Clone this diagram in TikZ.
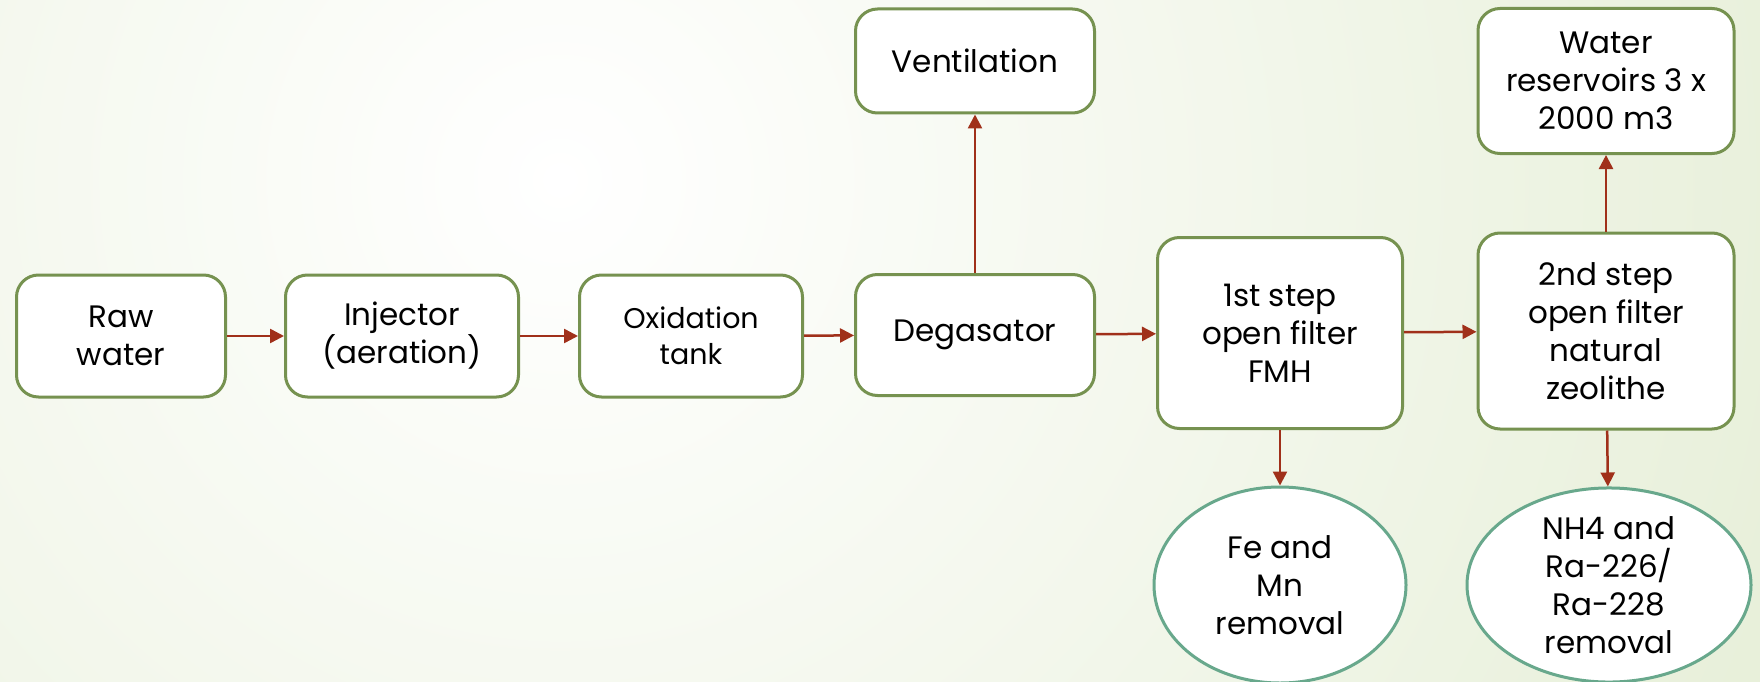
\documentclass[tikz,border=0pt]{standalone}
\usepackage{fontspec}
\setmainfont{Poppins}
\usetikzlibrary{arrows.meta,shapes.geometric}
\definecolor{boxline}{RGB}{118,146,80}
\definecolor{ellline}{RGB}{104,168,140}
\definecolor{arr}{RGB}{160,48,26}
\definecolor{bgout}{RGB}{208,224,180}
\begin{document}
\begin{tikzpicture}[x=1pt,y=-1pt,
  box/.style={draw=boxline, line width=3pt, fill=white, rounded corners=22pt, align=center, inner sep=0pt, font=\fontsize{31}{38}\selectfont},
  oval/.style={ellipse, draw=ellline, line width=3pt, fill=white, align=center, inner sep=0pt, font=\fontsize{31}{38}\selectfont},
  flow/.style={draw=arr, line width=2.5pt, -{Triangle[length=14pt,width=14pt]}}]
\useasboundingbox (0,0) rectangle (1760,682);
\begin{scope}
\clip (0,0) rectangle (1760,682);
\shade[inner color=white, outer color=bgout] (560,180) circle (2600);
\end{scope}
\node[box, minimum width=209pt, minimum height=122pt] (raw) at (121,336) {Raw\\water};
\node[box, minimum width=233pt, minimum height=122pt] (inj) at (402,336) {Injector\\(aeration)};
\node[box, minimum width=223pt, minimum height=122pt, font=\fontsize{28.5}{36}\selectfont] (oxi) at (691,336) {Oxidation\\tank};
\node[box, minimum width=239pt, minimum height=121pt] (deg) at (975,335) {Degasator};
\node[box, minimum width=239pt, minimum height=104pt] (ven) at (975,61) {Ventilation};
\node[box, minimum width=245pt, minimum height=191pt] (f1) at (1280,333) {1st step\\open filter\\FMH};
\node[box, minimum width=256pt, minimum height=196pt] (f2) at (1606,331) {2nd step\\open filter\\natural\\zeolithe};
\node[box, minimum width=256pt, minimum height=145pt] (res) at (1606,81) {Water\\reservoirs 3 x\\2000 m3};
\node[oval, minimum width=252pt, minimum height=196pt] (fe) at (1280,585) {Fe and\\Mn\\removal};
\node[oval, minimum width=284pt, minimum height=194pt] (nh) at (1609,585) {NH4 and\\Ra-226/\\Ra-228\\removal};
\draw[flow] (raw) -- (inj);
\draw[flow] (inj) -- (oxi);
\draw[flow] (oxi) -- (deg);
\draw[flow] (deg) -- (ven);
\draw[flow] (deg) -- (f1);
\draw[flow] (f1) -- (f2);
\draw[flow] (f2) -- (res);
\draw[flow] (f1) -- (fe);
\draw[flow] (f2) -- (nh);
\end{tikzpicture}
\end{document}
